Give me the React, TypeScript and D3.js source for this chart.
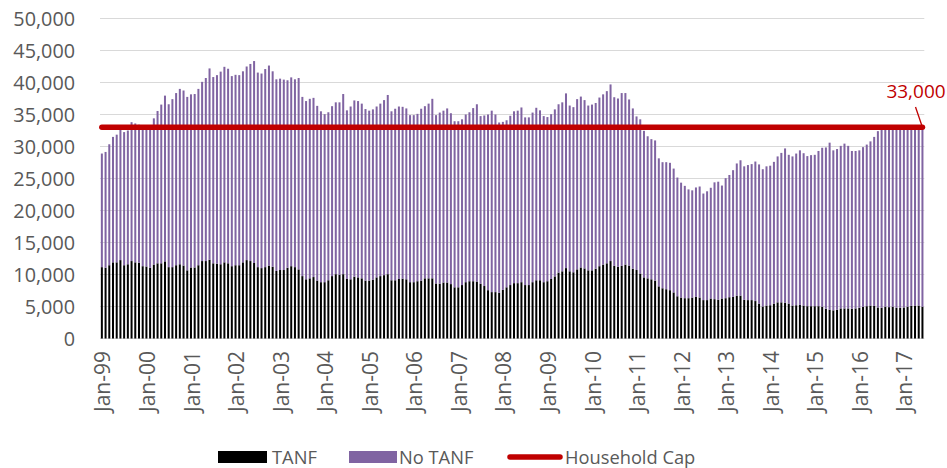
import React from "react";
import * as d3 from "d3";

// Monthly categories Jan-1999 .. Jun-2017
const yearLabels = ["99","00","01","02","03","04","05","06","07","08","09","10","11","12","13","14","15","16","17"];
const monthNames = ["Jan","Feb","Mar","Apr","May","Jun","Jul","Aug","Sep","Oct","Nov","Dec"];
const lastYearMonths = 6;

// Total households (TANF + No TANF), one row per year
const totalHouseholds = [
  28900, 29150, 30350, 31500, 31850, 32650, 32250, 32500, 33800, 33600, 33400, 32900, // 1999
  33100, 33200, 34400, 35550, 36550, 37950, 36600, 37400, 38350, 39000, 38750, 37750, // 2000
  38150, 38200, 39000, 40100, 40700, 42200, 40850, 41150, 41700, 42450, 42150, 41000, // 2001
  41200, 41150, 41750, 42500, 42900, 43350, 41550, 41400, 42100, 42650, 41750, 40500, // 2002
  40600, 40450, 40350, 40800, 40500, 40700, 37750, 37100, 37450, 37600, 36350, 35500, // 2003
  35050, 35350, 36300, 36900, 36900, 38200, 35650, 36250, 37200, 37100, 36700, 35850, // 2004
  35600, 35800, 36250, 36700, 37250, 38050, 35500, 35900, 36250, 36200, 35950, 34900, // 2005
  34900, 35100, 35900, 36300, 36700, 37450, 34900, 35300, 35600, 35950, 35200, 33950, // 2006
  33950, 34250, 35000, 35350, 36000, 36600, 34750, 34850, 35000, 35600, 35000, 33750, // 2007
  33850, 34100, 34800, 35500, 35600, 36100, 34550, 34550, 35300, 36050, 35650, 34750, // 2008
  34600, 35050, 35800, 36600, 36900, 38300, 36400, 36150, 37400, 37800, 37250, 36400, // 2009
  36550, 36800, 37650, 38150, 38650, 39700, 37700, 37500, 38350, 38350, 37350, 35950, // 2010
  34700, 34250, 32450, 31600, 31150, 30950, 28150, 27550, 27550, 27450, 26550, 25150, // 2011
  24350, 23850, 23300, 23150, 23600, 23750, 22650, 23000, 23550, 24400, 24500, 23900, // 2012
  25050, 25550, 26300, 27350, 27850, 26900, 27100, 27250, 27650, 27200, 26450, 26900, // 2013
  27000, 27600, 28450, 29000, 29700, 28700, 28450, 28900, 29400, 28950, 28500, 28650, // 2014
  28700, 29300, 29800, 29850, 30600, 29400, 29600, 30100, 30450, 30100, 29300, 29300, // 2015
  29400, 29900, 30300, 30800, 31500, 32400, 33000, 33000, 33000, 33000, 33000, 33000, // 2016
  33000, 33000, 33000, 33000, 33000, 33000,                                           // 2017
];

// TANF households
const tanfHouseholds = [
  11150, 11050, 11450, 11900, 11900, 12250, 11450, 11600, 12100, 11900, 11850, 11300, // 1999
  11250, 11050, 11550, 11750, 11750, 12050, 11150, 11150, 11450, 11600, 11400, 10650, // 2000
  11100, 11100, 11450, 12100, 12100, 12300, 11750, 11700, 11600, 11900, 11750, 11300, // 2001
  11450, 11450, 11900, 12250, 12100, 11800, 11150, 11000, 11150, 11400, 11200, 10550, // 2002
  10700, 10700, 11050, 11300, 11150, 10800, 9750, 9250, 9400, 9600, 9050, 8800,       // 2003
  8800, 9100, 9750, 10050, 9950, 10050, 9300, 9250, 9650, 9550, 9400, 9050,            // 2004
  9050, 9200, 9550, 9750, 9900, 10050, 9100, 9100, 9300, 9350, 9250, 8800,             // 2005
  8800, 8950, 9050, 9400, 9400, 9400, 8600, 8550, 8750, 8750, 8500, 8000,              // 2006
  8000, 8350, 8800, 8950, 8950, 8900, 8550, 8200, 7550, 7250, 7250, 7150,              // 2007
  7600, 8000, 8350, 8650, 8650, 8800, 8350, 8350, 8800, 9100, 9100, 8800,              // 2008
  8950, 9300, 9700, 10300, 10500, 11000, 10500, 10350, 10800, 11100, 10950, 10650,     // 2009
  10650, 10900, 11300, 11550, 11750, 12100, 11350, 11200, 11350, 11550, 11400, 10900,  // 2010
  10700, 10150, 9550, 9400, 9250, 9050, 8150, 7850, 7700, 7550, 7200, 6600,            // 2011
  6400, 6300, 6300, 6400, 6500, 6400, 6000, 6000, 6250, 6150, 6050, 6250,              // 2012
  6300, 6450, 6500, 6700, 6700, 6050, 6000, 6000, 5850, 5450, 5000, 5150,              // 2013
  5200, 5450, 5650, 5650, 5600, 5450, 5150, 5200, 5250, 5150, 5050, 5050,              // 2014
  5050, 5050, 4950, 4650, 4500, 4400, 4500, 4700, 4700, 4700, 4650, 4700,              // 2015
  4800, 4950, 5050, 5150, 5100, 4850, 4800, 4950, 4900, 4950, 4800, 4800,              // 2016
  4850, 4950, 5100, 5150, 5150, 4950,                                                  // 2017
];

const householdCap = 33000;
const capLabel = "33,000";
const yTicks = [0, 5000, 10000, 15000, 20000, 25000, 30000, 35000, 40000, 45000, 50000];
const seriesNames = ["TANF", "No TANF", "Household Cap"];

const W = 947;
const H = 468;
const FONT = "'Open Sans', 'Noto Sans', sans-serif";
const TEXT = "#595959";
const PURPLE = "#8064A2";
const RED = "#C00000";

export default function App() {
  const categories: string[] = [];
  yearLabels.forEach((yy, yi) => {
    const n = yi === yearLabels.length - 1 ? lastYearMonths : 12;
    for (let m = 0; m < n; m++) categories.push(`${monthNames[m]}-${yy}`);
  });

  const rows = categories.map((c, i) => ({
    cat: c,
    tanf: tanfHouseholds[i],
    noTanf: totalHouseholds[i] - tanfHouseholds[i],
    cap: householdCap,
  }));

  const x = d3.scaleBand<string>().domain(categories).range([100, 924.3]).paddingInner(0.46).paddingOuter(0.23);
  const y = d3.scaleLinear().domain([0, 50000]).range([338.5, 18.5]);
  const stack = d3.stack<any>().keys(["tanf", "noTanf"]);
  const layers = stack(rows);
  const colors = ["#000000", PURPLE];
  const fmt = d3.format(",");
  const cx = (c: string) => (x(c) as number) + x.bandwidth() / 2;

  const capLine = d3
    .line<any>()
    .x((d) => cx(d.cat))
    .y((d) => y(d.cap))(rows) as string;

  const lastRow = rows[rows.length - 1];
  const lastX = cx(lastRow.cat);
  const lastY = y(lastRow.cap);

  return (
    <svg width={W} height={H} style={{ position: "absolute", left: 0, top: 0, background: "#fff" }} fontFamily={FONT}>
      {/* gridlines */}
      {yTicks.map((t) => (
        <line key={t} x1={100} x2={924.3} y1={y(t)} y2={y(t)} stroke="#d9d9d9" strokeWidth={1} />
      ))}
      {/* y tick labels */}
      {yTicks.map((t) => (
        <text key={"yl" + t} x={75} y={y(t)} dy="0.37em" textAnchor="end" fontSize={19.8} fill={TEXT}>
          {fmt(t)}
        </text>
      ))}
      {/* stacked bars */}
      {layers.map((layer, li) => (
        <g key={layer.key} fill={colors[li]}>
          {layer.map((d, i) => (
            <rect
              key={i}
              x={x(d.data.cat) as number}
              width={x.bandwidth()}
              y={y(d[1])}
              height={y(d[0]) - y(d[1])}
            />
          ))}
        </g>
      ))}
      {/* x labels (January only) */}
      {categories
        .filter((c) => c.startsWith("Jan"))
        .map((c) => (
          <text
            key={"xl" + c}
            transform={`translate(${cx(c) + 1},351) rotate(-90)`}
            textAnchor="end"
            dy="0.36em"
            fontSize={21}
            fill={TEXT}
          >
            {c}
          </text>
        ))}
      {/* household cap line */}
      <path d={capLine} fill="none" stroke={RED} strokeWidth={5.5} strokeLinecap="round" />
      {/* data label with leader */}
      <line x1={915.5} y1={107} x2={lastX} y2={lastY} stroke={RED} strokeWidth={1.3} />
      <text x={916} y={97.5} textAnchor="middle" fontSize={19} fill={RED}>
        {capLabel}
      </text>
      {/* legend */}
      <rect x={218} y={451} width={49} height={12} fill="#000" />
      <text x={272} y={463.5} fontSize={18.3} fill={TEXT}>{seriesNames[0]}</text>
      <rect x={349} y={451} width={48} height={12} fill={PURPLE} />
      <text x={399} y={463.5} fontSize={18.3} fill={TEXT}>{seriesNames[1]}</text>
      <line x1={510} x2={560} y1={457} y2={457} stroke={RED} strokeWidth={5.5} strokeLinecap="round" />
      <text x={565} y={463.5} fontSize={18.3} fill={TEXT}>{seriesNames[2]}</text>
    </svg>
  );
}
